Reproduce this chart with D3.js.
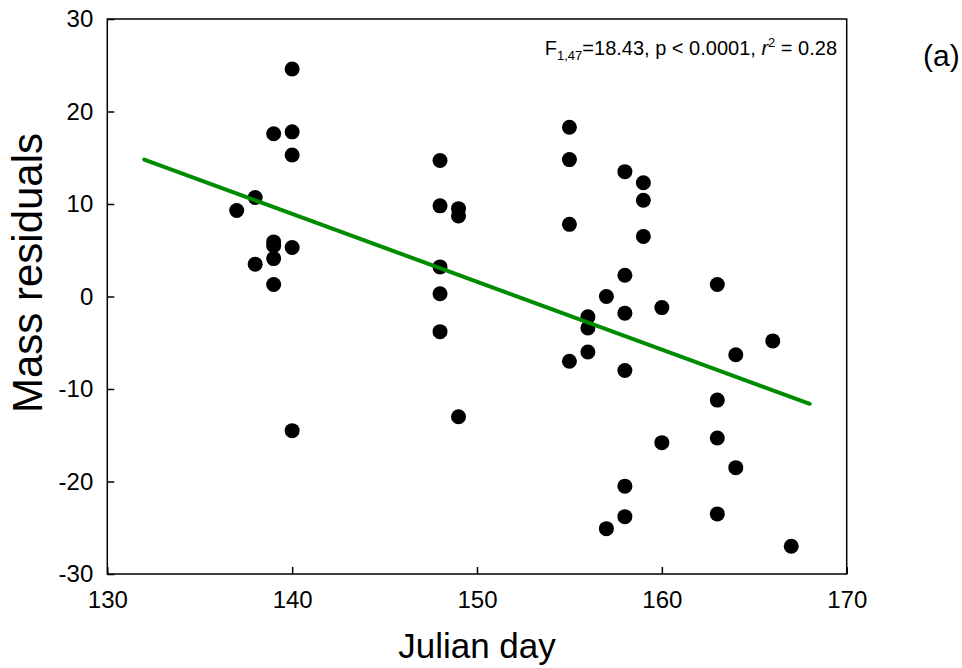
<!DOCTYPE html>
<html>
<head>
<meta charset="utf-8">
<script src="https://cdn.jsdelivr.net/npm/d3@7"></script>
<style>
  body { margin: 0; background: #fff; }
  text { font-family: Arial, "Liberation Sans", sans-serif; fill: #000; }
</style>
</head>
<body>
<script>
var w = 962;
var h = 668;

var days = [137, 138, 138, 139, 139, 139, 139, 139, 140, 140, 140, 140, 140,
            148, 148, 148, 148, 148, 149, 149, 149,
            155, 155, 155, 155, 156, 156, 156, 157, 157,
            158, 158, 158, 158, 158, 158, 159, 159, 159, 160, 160,
            163, 163, 163, 163, 164, 164, 166, 167];
var residuals = [9.3, 10.7, 3.5, 17.6, 5.9, 5.5, 4.1, 1.3, 24.6, 17.8, 15.3, 5.3, -14.5,
                 14.7, 9.8, 3.2, 0.3, -3.8, 9.5, 8.7, -13.0,
                 18.3, 14.8, 7.8, -7.0, -2.2, -3.4, -6.0, 0.0, -25.1,
                 13.5, 2.3, -1.8, -8.0, -20.5, -23.8, 12.3, 10.4, 6.5, -1.2, -15.8,
                 1.3, -11.2, -15.3, -23.5, -6.3, -18.5, -4.8, -27.0];

// regression line end points
var fitX = [132, 168];
var fitY = [14.8, -11.6];

var xTicks = [130, 140, 150, 160, 170];
var yTicks = [-30, -20, -10, 0, 10, 20, 30];

var svg = d3.select("body")
            .append("svg")
            .attr("width", w)
            .attr("height", h);

var x = d3.scaleLinear().domain([130, 170]).range([107.3, 846.7]);
var y = d3.scaleLinear().domain([-30, 30]).range([574, 19]);

// axes, ticks pointing inward, plain hyphen for negatives
var xAxis = svg.append("g")
               .attr("transform", "translate(0," + y(-30) + ")")
               .call(d3.axisBottom(x).tickValues(xTicks).tickFormat(function(d) { return String(d); })
                       .tickSize(-7).tickPadding(17));
var yAxis = svg.append("g")
               .attr("transform", "translate(" + x(130) + ",0)")
               .call(d3.axisLeft(y).tickValues(yTicks).tickFormat(function(d) { return String(d); })
                       .tickSize(-7).tickPadding(14));

[xAxis, yAxis].forEach(function(g) {
  g.select(".domain").remove();
  g.selectAll("line").attr("stroke", "#000").attr("stroke-width", 1.5);
  g.selectAll("text")
   .style("font-family", "Arial, 'Liberation Sans', sans-serif")
   .style("font-size", "24px")
   .attr("fill", "#000");
});

// frame
svg.append("rect")
   .attr("x", x(130))
   .attr("y", y(30))
   .attr("width", x(170) - x(130))
   .attr("height", y(-30) - y(30))
   .attr("fill", "none")
   .attr("stroke", "#000")
   .attr("stroke-width", 1.5);

// points
svg.selectAll("circle")
   .data(days)
   .enter()
   .append("circle")
   .attr("cx", function(d) { return x(d); })
   .attr("cy", function(d, i) { return y(residuals[i]); })
   .attr("r", 7.5)
   .attr("fill", "#000");

// fitted line
svg.append("path")
   .datum(d3.zip(fitX, fitY))
   .attr("d", d3.line().x(function(d) { return x(d[0]); }).y(function(d) { return y(d[1]); }))
   .attr("fill", "none")
   .attr("stroke", "#008c00")
   .attr("stroke-width", 4)
   .attr("stroke-linecap", "round");

// axis titles
svg.append("text")
   .attr("x", (x(130) + x(170)) / 2)
   .attr("y", 658)
   .attr("text-anchor", "middle")
   .style("font-size", "35px")
   .text("Julian day");

svg.append("text")
   .attr("transform", "translate(42,273) rotate(-90)")
   .attr("text-anchor", "middle")
   .style("font-size", "42px")
   .text("Mass residuals");

// statistics
var stat = svg.append("text")
              .attr("x", 837)
              .attr("y", 55)
              .attr("text-anchor", "end")
              .style("font-size", "20px");
stat.append("tspan").text("F");
stat.append("tspan").attr("dy", 5).style("font-size", "13px").text("1,47");
stat.append("tspan").attr("dy", -5).text("=18.43, p < 0.0001, ");
stat.append("tspan").style("font-style", "italic").text("r");
stat.append("tspan").attr("dy", -8).style("font-size", "13px").text("2");
stat.append("tspan").attr("dy", 8).text(" = 0.28");

svg.append("text")
   .attr("x", 923)
   .attr("y", 66)
   .style("font-size", "30px")
   .text("(a)");
</script>
</body>
</html>
